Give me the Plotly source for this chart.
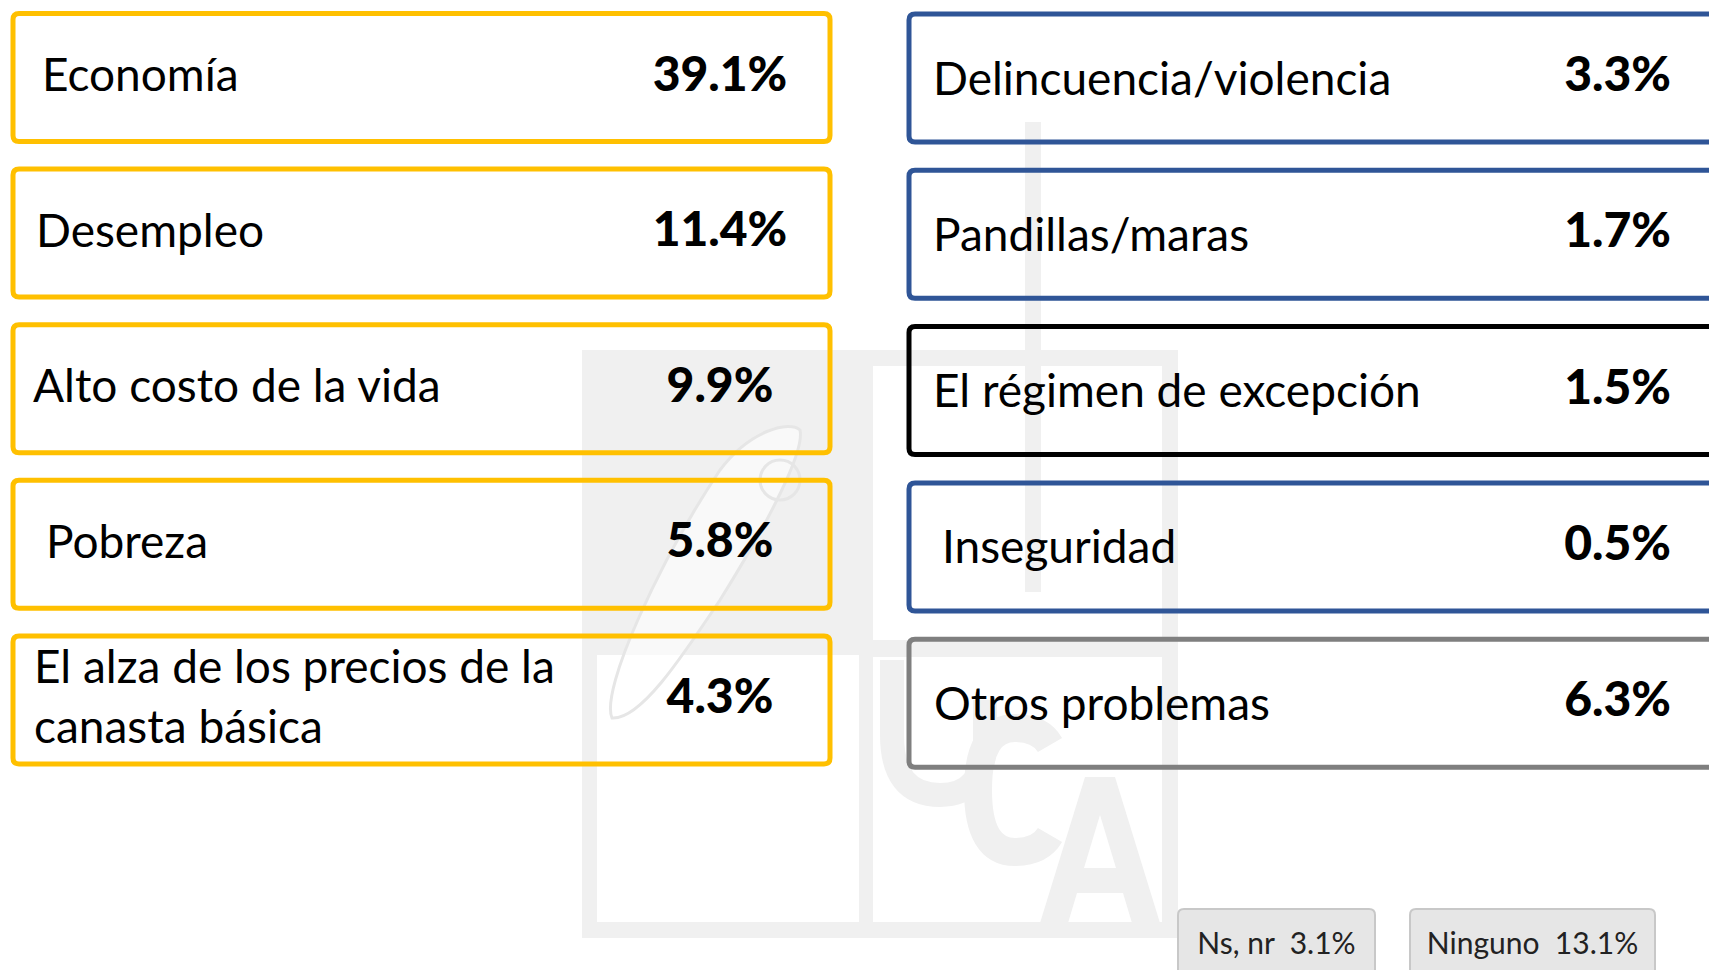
import plotly.graph_objects as go

# ---------------- data ----------------
left_labels = ["Economía", "Desempleo", "Alto costo de la vida", "Pobreza",
               "El alza de los precios de la<br>canasta básica"]
left_values = [39.1, 11.4, 9.9, 5.8, 4.3]

right_labels = ["Delincuencia/violencia", "Pandillas/maras", "El régimen de excepción",
                "Inseguridad", "Otros problemas"]
right_values = [3.3, 1.7, 1.5, 0.5, 6.3]

extra_labels = ["Ns, nr", "Ninguno"]
extra_values = [3.1, 13.1]

# ---------------- styles ----------------
YELLOW = "#FFC000"
BLUE = "#2F5597"
BLACK = "#000000"
GRAY = "#7F7F7F"
left_colors = [YELLOW] * 5
right_colors = [BLUE, BLUE, BLACK, BLUE, GRAY]
WM = "#F0F0F0"

# small horizontal indents of the labels (layout only)
left_indent = [6, 0, -3, 10, -2]
right_indent = [0, 0, 0, 9, 1]

FONT = "Lato, Roboto, sans-serif"
W, H = 1717, 970
OFF = 8  # default page margin of the html body


def rr(x0, y0, x1, y1, r=6):
    return (f"M {x0+r},{y0} L {x1-r},{y0} Q {x1},{y0} {x1},{y0+r} "
            f"L {x1},{y1-r} Q {x1},{y1} {x1-r},{y1} L {x0+r},{y1} "
            f"Q {x0},{y1} {x0},{y1-r} L {x0},{y0+r} Q {x0},{y0} {x0+r},{y0} Z")


shapes = []

# ---------------- watermark (UCA logo, faint) ----------------
def wrect(x0, y0, x1, y1):
    shapes.append(dict(type="rect", x0=x0, y0=y0, x1=x1, y1=y1, xref="x", yref="y",
                       fillcolor=WM, line=dict(width=0), layer="below"))

wrect(582, 350, 872, 655)      # filled quadrant
wrect(582, 350, 1178, 366)     # top
wrect(582, 350, 597, 938)      # left
wrect(582, 922, 1178, 938)     # bottom
wrect(1162, 350, 1178, 938)    # right
wrect(859, 350, 873, 938)      # middle
wrect(873, 640, 1162, 657)     # horizontal band
wrect(1025, 122, 1041, 592)    # tall bar
# quill outline
shapes.append(dict(type="path", xref="x", yref="y", layer="below",
                   path="M 612,718 C 600,690 660,560 720,470 C 750,430 790,420 800,430 "
                        "C 805,450 770,520 720,600 C 680,660 640,720 612,718 Z",
                   line=dict(color="#E6E6E6", width=3), fillcolor="rgba(255,255,255,0.6)"))
shapes.append(dict(type="circle", xref="x", yref="y", layer="below",
                   x0=760, y0=460, x1=800, y1=500, line=dict(color="#E6E6E6", width=3)))
# letters U, C, A as shapes
shapes.append(dict(type="path", xref="x", yref="y", layer="below",
                   path="M 892,660 L 892,735 Q 892,795 940,795 Q 985,795 985,740 L 985,700",
                   line=dict(color=WM, width=24)))
shapes.append(dict(type="path", xref="x", yref="y", layer="below",
                   path="M 1050,745 Q 1040,728 1015,728 Q 978,728 978,790 Q 978,852 1015,852 Q 1040,852 1050,835",
                   line=dict(color=WM, width=28)))
shapes.append(dict(type="path", xref="x", yref="y", layer="below",
                   path="M 1040,923 L 1085,777 L 1115,777 L 1160,923 L 1132,923 L 1123,893 "
                        "L 1077,893 L 1068,923 Z M 1084,868 L 1116,868 L 1100,815 Z",
                   line=dict(width=0), fillcolor=WM))

# ---------------- boxes ----------------
LX0, LX1 = 13, 830
RX0, RX1 = 909, 1745
BH = 128
L_TOP, L_STEP = 13.5, 155.6
R_TOP, R_STEP = 14.0, 156.3
for i, c in enumerate(left_colors):
    top = L_TOP + i * L_STEP
    shapes.append(dict(type="path", xref="x", yref="y", path=rr(LX0, top, LX1, top + BH),
                       line=dict(color=c, width=5), fillcolor="rgba(0,0,0,0)", layer="above"))
for i, c in enumerate(right_colors):
    top = R_TOP + i * R_STEP
    shapes.append(dict(type="path", xref="x", yref="y", path=rr(RX0, top, RX1, top + BH),
                       line=dict(color=c, width=5), fillcolor="rgba(0,0,0,0)", layer="above"))

# small bottom boxes
small_x = [(1178, 1375), (1410, 1655)]
for (x0, x1) in small_x:
    shapes.append(dict(type="path", xref="x", yref="y", path=rr(x0, 909, x1, 990, 6),
                       line=dict(color="#C8C8C8", width=2), fillcolor="#E6E6E6", layer="below"))

fig = go.Figure()

left_y = [L_TOP + i * L_STEP + BH / 2 for i in range(5)]
right_y = [R_TOP + i * R_STEP + BH / 2 for i in range(5)]

# labels
fig.add_trace(go.Scatter(
    x=[36 + d for d in left_indent], y=[y + 2 for y in left_y], mode="text", text=left_labels,
    textposition="middle right", textfont=dict(family=FONT, size=46, color="#000"),
    hoverinfo="skip", showlegend=False))
fig.add_trace(go.Scatter(
    x=[933 + d for d in right_indent], y=[y + 5 for y in right_y], mode="text", text=right_labels,
    textposition="middle right", textfont=dict(family=FONT, size=46, color="#000"),
    hoverinfo="skip", showlegend=False))

# values
fig.add_trace(go.Scatter(
    x=[720] * 5, y=[y + 1 for y in left_y], mode="text",
    text=[f"{v:.1f}%" for v in left_values],
    textposition="middle center", textfont=dict(family=FONT, size=48, color="#000", weight=900),
    hoverinfo="skip", showlegend=False))
fig.add_trace(go.Scatter(
    x=[1671] * 5, y=[y + 1 for y in right_y], mode="text",
    text=[f"{v:.1f}%" for v in right_values],
    textposition="middle left", textfont=dict(family=FONT, size=48, color="#000", weight=900),
    hoverinfo="skip", showlegend=False))

# extra boxes text
fig.add_trace(go.Scatter(
    x=[(a + b) / 2 for a, b in small_x], y=[946, 946], mode="text",
    text=[f"{lab}  {v:.1f}%" for lab, v in zip(extra_labels, extra_values)],
    textposition="middle center", textfont=dict(family=FONT, size=30, color="#222"),
    hoverinfo="skip", showlegend=False))

fig.update_layout(
    width=W - OFF, height=H - OFF, margin=dict(l=0, r=0, t=0, b=0),
    paper_bgcolor="white", plot_bgcolor="white",
    xaxis=dict(range=[OFF, W], visible=False, fixedrange=True),
    yaxis=dict(range=[H, OFF], visible=False, fixedrange=True),
    shapes=shapes, showlegend=False,
)
fig.write_html("out.html")
